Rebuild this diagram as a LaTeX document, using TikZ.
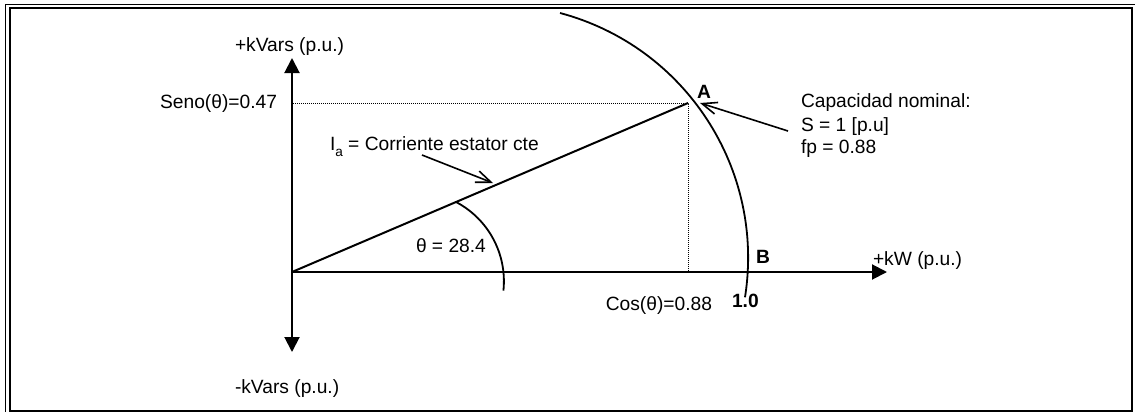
\documentclass[tikz,border=0pt]{standalone}
\usepackage{fontspec}
\setmainfont{Liberation Sans}
\usetikzlibrary{arrows.meta}
\begin{document}
\begin{tikzpicture}[x=0.5pt,y=-0.5pt,
  lbl/.style={inner sep=0pt,outer sep=0pt,font=\fontsize{9.6}{11.5}\selectfont},
  blbl/.style={lbl,font=\fontsize{9.6}{11.5}\selectfont\bfseries},
  axis/.style={line width=1pt,-{Triangle[length=7.5pt,width=7.5pt]}},
  axis2/.style={line width=1pt,{Triangle[length=7.5pt,width=7.5pt]}-{Triangle[length=7.5pt,width=7.5pt]}},
  vec/.style={line width=1pt},
  guide/.style={line width=0.5pt,dash pattern=on 0.5pt off 0.5pt},
  curve/.style={line width=0.9pt},
  note/.style={line width=0.8pt,-{Straight Barb[length=7.5pt,width=6pt]}}]
\useasboundingbox (0,0) rectangle (1135,412);
% frame
\draw[line width=0.75pt] (5.6,412) -- (5.6,4.6) -- (1135,4.6);
\draw[line width=1.1pt] (9.8,8.2) rectangle (1132.2,410.6);
% coordinates
\coordinate (O) at (292,272);
\coordinate (ytop) at (292,58);
\coordinate (ybot) at (292,352);
\coordinate (xend) at (887,272);
\coordinate (A) at (688,103);
\coordinate (Ay) at (293,103);
\coordinate (Ax) at (688,272);
\coordinate (arcS) at (560,13);
\coordinate (angS) at (456,202);
\coordinate (iaS) at (422,155);
\coordinate (iaE) at (493,183);
\coordinate (capS) at (788,131);
\coordinate (capE) at (700,103);
% axes
\draw[axis2] (ybot) -- (ytop);
\draw[axis] (O) -- (xend);
% vector
\draw[vec] (O) -- (A);
% guides
\draw[guide] (Ay) -- (A) -- (Ax);
% capability arc
\draw[curve] (arcS) arc[start angle=75.1, end angle=-9, radius=126.6pt];
% angle arc
\draw[curve] (angS) arc[start angle=62.3, end angle=-6, radius=44.75pt];
% annotation arrows
\draw[note] (iaS) -- (iaE);
\draw[note] (capS) -- (capE);
% labels
\node[lbl,anchor=base west] (lky) at (235,51) {+kVars (p.u.)};
\node[lbl,anchor=base west] (lkyn) at (235,393) {-kVars (p.u.)};
\node[lbl,anchor=base east] (lsen) at (277,108) {Seno(θ)=0.47};
\node[lbl,anchor=base east] (lcos) at (712,310) {Cos(θ)=0.88};
\node[lbl,anchor=base west] (lia) at (330,150) {I\raisebox{-3.2pt}{\fontsize{6.8}{7}\selectfont a} = Corriente estator cte};
\node[lbl,anchor=base west] (lth) at (416,252) {θ = 28.4};
\node[blbl,anchor=base west] (lA) at (697,98) {A};
\node[blbl,anchor=base west] (lB) at (756,263) {B};
\node[blbl,anchor=base west] (l10) at (732,307) {1.0};
\node[lbl,anchor=base west] (lkw) at (873,265) {+kW (p.u.)};
\node[lbl,anchor=base west] (lcap1) at (801,107.3) {Capacidad nominal:};
\node[lbl,anchor=base west] (lcap2) at (801,131) {S = 1 [p.u]};
\node[lbl,anchor=base west] (lcap3) at (801,153.3) {fp = 0.88};
\end{tikzpicture}
\end{document}
